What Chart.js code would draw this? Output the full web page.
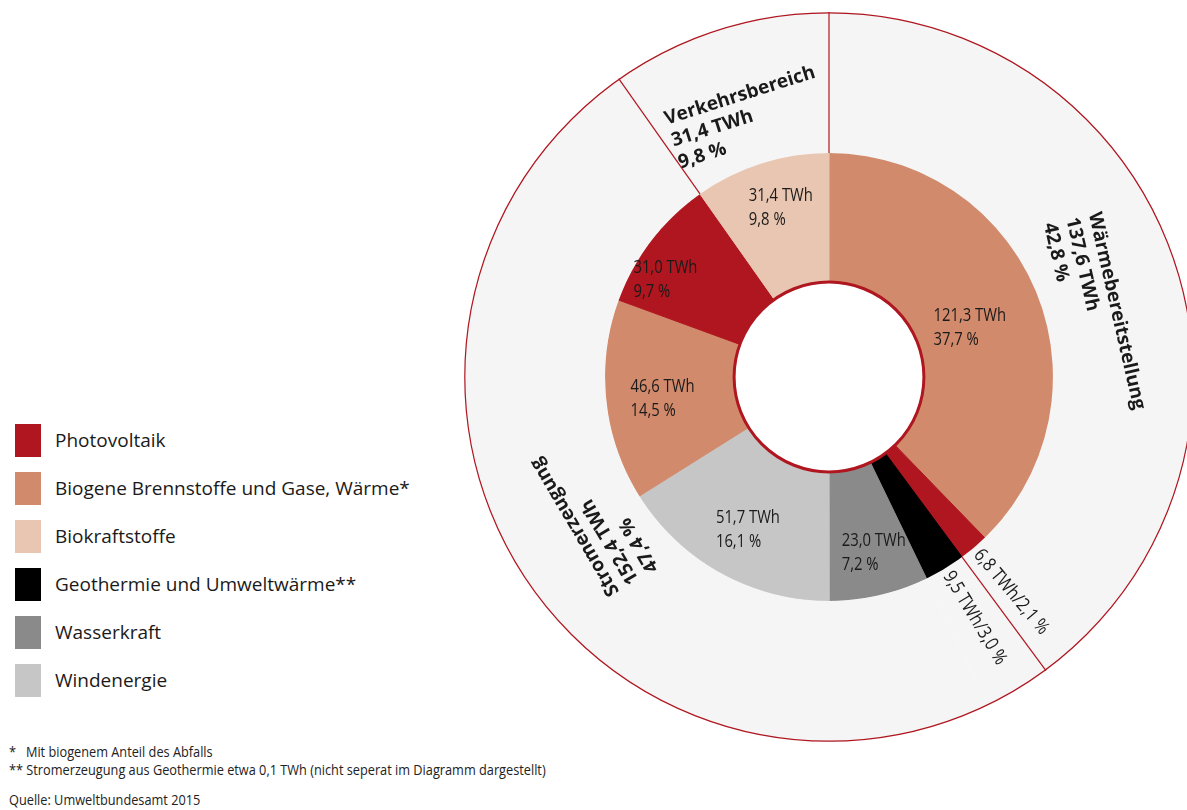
<!DOCTYPE html>
<html>
<head>
<meta charset="utf-8">
<script src="https://cdn.jsdelivr.net/npm/chart.js@4.4.1/dist/chart.umd.min.js"></script>
<style>
  html, body { margin: 0; padding: 0; background: #fff; overflow: hidden; width: 1187px; height: 810px; }
  body { position: relative; font-family: "Open Sans", sans-serif; color: #1a1a1a; }
  #c { position: absolute; left: 464px; top: 12px; }
  #legend { position: absolute; left: 15px; top: 424px; }
  .row { height: 48px; display: flex; align-items: flex-start; }
  .box { width: 26px; height: 33px; flex: none; }
  .lab { margin-left: 14px; font-size: 19px; line-height: 33px; white-space: nowrap; }
  #notes { position: absolute; left: 9px; top: 743px; font-size: 14px; line-height: 18px; white-space: nowrap;
           transform: scaleX(0.91); transform-origin: 0 0; color: #222; }
</style>
</head>
<body>
<canvas id="c" width="730" height="730"></canvas>
<div id="legend"></div>
<div id="notes">
  <div>*&nbsp;&nbsp;&nbsp;Mit biogenem Anteil des Abfalls</div>
  <div>** Stromerzeugung aus Geothermie etwa 0,1 TWh (nicht seperat im Diagramm dargestellt)</div>
  <div style="margin-top:12px">Quelle: Umweltbundesamt 2015</div>
</div>
<script>
// legend entries
const legendLabels = ["Photovoltaik", "Biogene Brennstoffe und Gase, Wärme*", "Biokraftstoffe",
                      "Geothermie und Umweltwärme**", "Wasserkraft", "Windenergie"];
const legendColors = ["#b0161f", "#d18a6b", "#e9c6b1", "#000000", "#8a8a8a", "#c6c6c6"];

// inner ring, clockwise from 12 o'clock (TWh)
const innerValues = [121.3, 6.8, 9.5, 23.0, 51.7, 46.6, 31.0, 31.4];
const innerPercents = ["37,7 %", "2,1 %", "3,0 %", "7,2 %", "16,1 %", "14,5 %", "9,7 %", "9,8 %"];
const innerKinds = [1, 0, 3, 4, 5, 1, 0, 2];

// outer ring sectors
const outerLabels = ["Wärmebereitstellung", "Stromerzeugung", "Verkehrsbereich"];
const outerValues = [137.6, 152.4, 31.4];
const outerPercents = ["42,8 %", "47,4 %", "9,8 %"];
// inner segment where each outer sector starts (as drawn)
const sectorBreaks = [0, 2, 7];

const red = "#b0161f";
const innerColors = innerKinds.map(k => legendColors[k]);
const fmt = v => v.toFixed(1).replace(".", ",") + " TWh";

// label nudges (px) from the segment centroid
const innerShift = [[-7, 10], [0, 0], [0, 0], [9, 20], [-4, 13], [-8, 5], [-37, 0], [0, -17]];
const smallLabels = [1, 2];

// legend
let html = "";
legendLabels.forEach((l, i) => {
  html += `<div class="row"><div class="box" style="background:${legendColors[i]}"></div><div class="lab">${l}</div></div>`;
});
document.getElementById("legend").innerHTML = html;

const ringDecor = {
  id: "ringDecor",
  afterDatasetsDraw(chart) {
    const ctx = chart.ctx;
    const outer = chart.getDatasetMeta(0).data;
    const inner = chart.getDatasetMeta(1).data;
    const cx = inner[0].x, cy = inner[0].y;
    const rOut = outer[0].outerRadius, rMid = inner[0].outerRadius, rIn = inner[0].innerRadius;

    ctx.save();
    // separator lines between sectors
    ctx.strokeStyle = red;
    ctx.lineWidth = 1.2;
    sectorBreaks.forEach(i => {
      const a = inner[i].startAngle;
      ctx.beginPath();
      ctx.moveTo(cx + rMid * Math.cos(a), cy + rMid * Math.sin(a));
      ctx.lineTo(cx + rOut * Math.cos(a), cy + rOut * Math.sin(a));
      ctx.stroke();
    });
    // outer circle
    ctx.beginPath();
    ctx.arc(cx, cy, rOut - 0.8, 0, Math.PI * 2);
    ctx.stroke();
    // hole
    ctx.beginPath();
    ctx.arc(cx, cy, rIn, 0, Math.PI * 2);
    ctx.fillStyle = "#fff";
    ctx.fill();
    ctx.lineWidth = 3;
    ctx.stroke();

    // inner labels
    ctx.fillStyle = "#1a1a1a";
    ctx.textBaseline = "middle";
    inner.forEach((arc, i) => {
      const mid = (arc.startAngle + arc.endAngle) / 2;
      const lines = [fmt(innerValues[i]), innerPercents[i]];
      if (smallLabels.includes(i)) {
        ctx.save();
        ctx.font = "19px 'Open Sans'";
        ctx.translate(cx, cy);
        ctx.rotate(mid);
        ctx.textAlign = "left";
        ctx.translate(rMid + 5, 0);
        ctx.scale(0.84, 1);
        ctx.fillText(lines[0] + "/" + lines[1], 0, 0);
        ctx.restore();
        return;
      }
      const rc = (arc.innerRadius + arc.outerRadius) / 2;
      const px = cx + rc * Math.cos(mid) + innerShift[i][0];
      const py = cy + rc * Math.sin(mid) + innerShift[i][1];
      const sx = 0.78;
      ctx.save();
      ctx.font = "19px 'Open Sans'";
      ctx.textAlign = "left";
      const w = Math.max(...lines.map(t => ctx.measureText(t).width)) * sx;
      ctx.translate(px - w / 2, py);
      ctx.scale(sx, 1);
      ctx.fillText(lines[0], 0, -12);
      ctx.fillText(lines[1], 0, 12);
      ctx.restore();
    });

    // outer sector labels, following the ring
    outer.forEach((arc, i) => {
      const mid = (arc.startAngle + arc.endAngle) / 2;
      const lines = [outerLabels[i], fmt(outerValues[i]), outerPercents[i]];
      ctx.save();
      ctx.font = "bold 19px 'Open Sans'";
      ctx.textAlign = "left";
      ctx.translate(cx, cy);
      ctx.rotate(mid + Math.PI / 2);
      const x0 = -ctx.measureText(lines[0]).width / 2;
      lines.forEach((t, k) => ctx.fillText(t, x0, -295 + k * 23));
      ctx.restore();
    });
    ctx.restore();
  }
};

new Chart(document.getElementById("c"), {
  type: "doughnut",
  data: {
    labels: innerKinds.map(k => legendLabels[k]),
    datasets: [
      { data: outerValues, backgroundColor: "#f5f5f5", borderWidth: 0, weight: 141 },
      { data: innerValues, backgroundColor: innerColors, borderColor: innerColors, borderWidth: 1, weight: 129 }
    ]
  },
  options: {
    responsive: false,
    animation: false,
    devicePixelRatio: 1,
    cutout: "26%",
    layout: { padding: 0 },
    plugins: { legend: { display: false }, tooltip: { enabled: false } }
  },
  plugins: [ringDecor]
});
</script>
</body>
</html>
